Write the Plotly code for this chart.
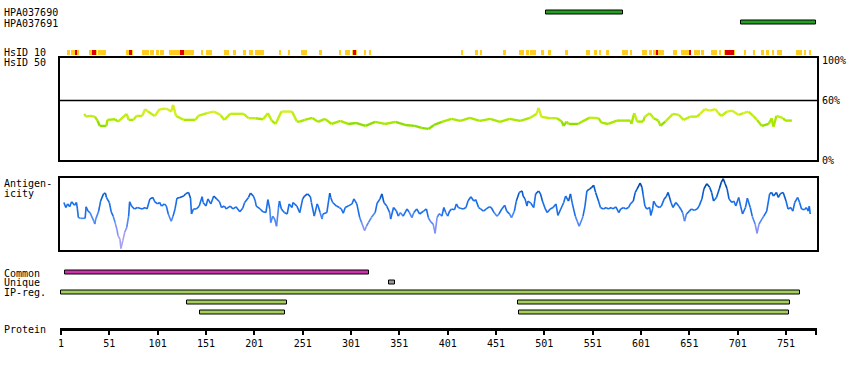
import plotly.graph_objects as go

W, H = 850, 370
FONT = "DejaVu Sans Mono"

# ---------------- data ----------------
protein_length = 782
tick_vals = [1, 51, 101, 151, 201, 251, 301, 351, 401, 451, 501, 551, 601, 651, 701, 751]

antibody_names = ["HPA037690", "HPA037691"]
antibody_start = [503, 704]
antibody_end = [582, 782]

# HsID 10 conserved segments (residue start, end)
hsid10_yellow_start = [8, 11, 18, 30, 37, 40, 43, 46, 68, 74, 85, 93, 100, 103, 113, 128, 146, 151, 170, 179, 189, 196, 202, 227, 236, 249, 268, 289, 295, 303, 306, 314, 320,
                       415, 430, 435, 459, 475, 483, 487, 490, 498, 505, 523, 544, 553, 558, 565, 581, 590, 602, 610, 613, 619, 621, 634, 642, 656, 664, 673, 682, 687, 697, 708, 717, 725, 731, 736, 742, 761, 770, 775]
hsid10_yellow_end = [10, 16, 19, 33, 38, 42, 45, 48, 72, 76, 92, 97, 102, 108, 124, 139, 148, 157, 175, 182, 192, 200, 211, 229, 238, 255, 271, 291, 300, 304, 307, 317, 322,
                     417, 432, 437, 461, 480, 485, 489, 492, 501, 508, 525, 548, 555, 560, 568, 588, 592, 607, 612, 616, 620, 625, 638, 651, 662, 666, 680, 684, 688, 698, 710, 719, 728, 733, 739, 747, 767, 772, 777]
hsid10_red_start = [15, 33, 72, 124, 304, 616, 651, 688]
hsid10_red_end = [18, 37, 74, 128, 306, 619, 653, 697]

# HsID 50 identity (%)
hsid50_res = [25, 27, 31, 36, 39, 41, 48, 49, 57, 60, 69, 71, 76, 79, 85, 88, 91, 98, 103, 110, 115, 117, 120, 128, 140, 143, 152, 159, 166, 170, 176, 190, 195, 202, 210, 215, 219, 223, 229, 240, 245, 248,
              253, 261, 267, 274, 281, 290, 298, 306, 316, 326, 336, 347, 357, 367, 374, 381, 387, 395, 405, 414, 424, 434, 445, 455, 465, 476, 486, 493, 495, 498,
              507, 514, 519, 521, 524, 526, 536, 540, 548, 557, 560, 567, 576, 590, 591, 594, 597, 603, 605, 610, 614, 619, 621, 626, 634, 640, 645, 652, 659, 662, 667, 672, 678, 681, 684, 690, 695, 702, 707, 712, 717, 721, 726, 733, 736, 738, 741, 748, 750, 757]
hsid50_pct = [46.6, 43.8, 44.5, 43.8, 39.5, 34.4, 34.4, 40.5, 41.2, 38.8, 46.6, 40.5, 40.5, 44.5, 44.5, 51.3, 48.9, 44.5, 51.3, 51.9, 48.9, 55.7, 44.5, 40.5, 40.5, 44.5, 47.3, 48.9, 45.5, 40.5, 46.6, 46.6, 42.2, 42.2, 41.2, 47.3, 39.8, 36.4, 48.9, 48.9, 38.8, 38.8,
              40.5, 42.5, 38.5, 41.5, 36.4, 39.5, 36.4, 37.4, 34.4, 38.5, 36.4, 38.5, 35.4, 34.4, 32.4, 31.4, 35.4, 38.5, 41.5, 39.5, 42.5, 39.5, 41.5, 38.5, 41.5, 39.5, 42.5, 46.6, 52.6, 43.5,
              42.2, 42.2, 38.8, 34.4, 38.8, 36.4, 36.4, 38.8, 42.8, 42.2, 37.8, 36.4, 39.8, 39.8, 36.4, 47.3, 38.8, 38.8, 43.8, 47.3, 42.2, 39.8, 34.4, 38.8, 46.6, 45.5, 40.5, 43.8, 43.8, 46.6, 51.3, 49.9, 51.3, 47.3, 44.5, 48.9, 49.9, 45.5, 47.3, 48.9, 44.5, 40.5, 34.4, 36.4, 42.2, 33.7, 44.5, 42.2, 39.8, 39.8]

# Antigenicity score (0-100 panel scale)
antigen_res = [4, 6, 8, 10, 12, 15, 17, 18, 19, 21, 26, 27, 29, 31, 35, 36, 37, 40, 42, 45, 47, 48, 51, 53, 55, 57, 59, 60, 62, 63, 65, 67, 69, 71, 72, 74, 77, 80, 85, 88, 90, 93, 96, 98, 101, 103, 105, 108, 110, 112, 115, 117, 119, 121, 124, 128, 130, 133, 135, 136, 138, 141, 144, 147, 148, 151, 153, 156, 159, 162, 165, 167, 170, 172, 176, 179, 182, 186, 189, 191, 195, 197, 200, 202, 203, 207, 210, 213, 215, 217, 218, 220, 222, 224, 226, 227, 229, 232, 235, 237, 240, 241, 245, 248, 251, 253, 256, 259, 260, 263, 266, 267, 269, 271, 272, 276, 279, 280, 282, 286, 289, 291, 293, 295, 298, 302, 304, 307, 310, 312, 315, 317, 319, 322, 326, 328, 331, 333, 335, 338, 341, 342, 345, 348, 350, 352, 355, 359, 361, 364, 366, 369, 372, 376, 379, 381, 383, 386, 388, 390, 392,
               393, 395, 397, 399, 401, 403, 405, 408, 410, 412, 414, 417, 420, 422, 425, 428, 430, 433, 435, 438, 441, 444, 446, 449, 452, 454, 457, 460, 462, 465, 467, 470, 472, 475, 478, 479, 481, 483, 484, 487, 490, 492, 495, 497, 499, 502, 504, 507, 510, 513, 515, 518, 521, 523, 526, 528, 530, 533, 535, 537, 540, 541, 543, 545, 548, 550, 552, 554, 557, 559, 562, 565, 567, 570, 572, 575, 578, 580, 583, 585, 588, 590, 593, 595, 597, 600, 602, 603, 605, 607, 610, 611, 613, 614, 617, 620, 622, 625, 627, 629, 632, 634, 637, 640, 642, 644, 646, 648, 651, 653, 656, 659, 661, 664, 666, 669, 672, 674, 676, 679, 682, 684, 686, 688, 690, 692, 695, 697, 699, 702, 704, 706, 709, 711, 714, 716, 719, 721, 723, 726, 728, 731, 734, 736, 738, 741, 743, 745, 748, 751, 753, 756, 758, 760, 763, 765, 767, 770, 772, 774, 775, 776]
antigen_score = [66, 59, 64, 60, 67, 62, 66, 57, 45, 44, 44, 60, 54, 52, 40, 36, 43, 54, 68, 78, 79, 73, 66, 53, 47, 38, 28, 20, 15, 2, 13, 25, 31, 47, 67, 61, 57, 59, 57, 59, 57, 71, 73, 67, 64, 66, 61, 64, 61, 50, 40, 47, 57, 72, 73, 75, 78, 80, 72, 50, 57, 57, 61, 74, 66, 61, 71, 64, 75, 71, 67, 59, 61, 57, 61, 57, 60, 53, 58, 66, 73, 79, 75, 68, 61, 57, 53, 52, 70, 57, 38, 47, 43, 33, 59, 68, 57, 52, 50, 64, 59, 66, 61, 52, 71, 75, 78, 74, 66, 47, 64, 61, 52, 43, 50, 52, 79, 73, 66, 61, 59, 57, 51, 59, 61, 64, 71, 64, 45, 38, 27, 33, 38, 45, 52, 65, 71, 78, 66, 61, 52, 43, 59, 54, 47, 52, 47, 57, 53, 45, 52, 57, 50, 54, 57, 45, 40, 36, 23, 45, 50,
                 50, 47, 59, 52, 47, 54, 57, 56, 64, 59, 58, 57, 59, 68, 74, 68, 70, 59, 57, 54, 57, 60, 59, 52, 47, 50, 57, 62, 54, 50, 45, 54, 68, 80, 82, 75, 71, 61, 68, 65, 59, 78, 82, 78, 68, 57, 52, 57, 59, 64, 48, 57, 66, 75, 68, 78, 64, 47, 40, 33, 43, 47, 61, 82, 85, 87, 90, 80, 68, 59, 57, 59, 57, 59, 57, 60, 52, 57, 59, 57, 59, 64, 68, 80, 85, 93, 87, 78, 61, 57, 59, 48, 57, 68, 61, 59, 61, 71, 74, 80, 66, 59, 66, 61, 57, 52, 40, 50, 54, 57, 55, 57, 61, 71, 85, 92, 87, 80, 68, 73, 85, 94, 99, 92, 85, 71, 66, 68, 61, 73, 61, 50, 59, 72, 59, 47, 36, 23, 36, 43, 47, 54, 78, 80, 75, 80, 73, 78, 80, 68, 57, 59, 54, 66, 73, 66, 57, 56, 59, 54, 61, 50]

common_start, common_end = [5], [320]
unique_start, unique_end = [340], [347]
ipreg_row = [0, 1, 1, 2, 2]
ipreg_start = [1, 131, 474, 145, 475]
ipreg_end = [765, 235, 755, 233, 754]

# ---------------- helpers ----------------
def fy(px):
    return 1 - px / H

def fx(px):
    return px / W

X_DOM = [fx(60), fx(817)]
X_RANGE = [0, 783]


def colored_segments(xs, ys, bins, colors, xaxis, yaxis, width):
    traces = []
    for b, col in enumerate(colors):
        sx, sy = [], []
        for i in range(len(xs) - 1):
            v = (ys[i] + ys[i + 1]) / 2
            k = 0
            while k < len(bins) and v >= bins[k]:
                k += 1
            if k == b:
                sx += [xs[i], xs[i + 1], None]
                sy += [ys[i], ys[i + 1], None]
        if sx:
            traces.append(go.Scatter(x=sx, y=sy, mode="lines", xaxis=xaxis, yaxis=yaxis,
                                     line=dict(color=col, width=width),
                                     hoverinfo="skip", showlegend=False, connectgaps=False))
    return traces


fig = go.Figure()

# HsID 50 line
for t in colored_segments(hsid50_res, hsid50_pct, [37, 42, 47],
                          ["#8EDF00", "#A8E800", "#C0EE10", "#D6EE22"], "x", "y", 2.4):
    fig.add_trace(t)

# Antigenicity line
for t in colored_segments(antigen_res, antigen_score, [20, 35, 50, 72, 86],
                          ["#A8A0F8", "#8090F8", "#4A86F4", "#1A6EE8", "#0A5CD0", "#0048A8"], "x2", "y2", 1.6):
    fig.add_trace(t)

# HsID 10 bars
fig.add_trace(go.Bar(orientation="h", y=[0] * len(hsid10_yellow_start),
                     base=hsid10_yellow_start,
                     x=[e - s for s, e in zip(hsid10_yellow_start, hsid10_yellow_end)],
                     width=1, marker=dict(color="#FFCC22", line=dict(width=0)),
                     xaxis="x3", yaxis="y5", showlegend=False, hoverinfo="skip"))
fig.add_trace(go.Bar(orientation="h", y=[0] * len(hsid10_red_start),
                     base=hsid10_red_start,
                     x=[e - s for s, e in zip(hsid10_red_start, hsid10_red_end)],
                     width=1, marker=dict(color="#E00000", line=dict(width=0)),
                     xaxis="x3", yaxis="y5", showlegend=False, hoverinfo="skip"))

# Antibody bars
fig.add_trace(go.Bar(orientation="h", y=[0, 1], base=antibody_start,
                     x=[e - s for s, e in zip(antibody_start, antibody_end)],
                     width=0.42, marker=dict(color="#22A022", line=dict(color="black", width=1)),
                     xaxis="x3", yaxis="y6", showlegend=False, hoverinfo="skip"))

# Track bars: Common (row 0), Unique (row 1), IP-reg (rows 2..4)
fig.add_trace(go.Bar(orientation="h", y=[0], base=common_start,
                     x=[e - s for s, e in zip(common_start, common_end)],
                     width=0.42, marker=dict(color="#CC33AA", line=dict(color="black", width=1)),
                     xaxis="x3", yaxis="y4", showlegend=False, hoverinfo="skip"))
fig.add_trace(go.Bar(orientation="h", y=[1], base=unique_start,
                     x=[e - s for s, e in zip(unique_start, unique_end)],
                     width=0.42, marker=dict(color="#999999", line=dict(color="black", width=1)),
                     xaxis="x3", yaxis="y4", showlegend=False, hoverinfo="skip"))
fig.add_trace(go.Bar(orientation="h", y=[r + 2 for r in ipreg_row], base=ipreg_start,
                     x=[e - s for s, e in zip(ipreg_start, ipreg_end)],
                     width=0.42, marker=dict(color="#A3CF5A", line=dict(color="black", width=1)),
                     xaxis="x3", yaxis="y4", showlegend=False, hoverinfo="skip"))

# ---------------- layout ----------------
hidden = dict(visible=False, showgrid=False, zeroline=False, automargin=False)

layout = dict(
    width=W, height=H, margin=dict(l=0, r=0, t=0, b=0, autoexpand=False),
    paper_bgcolor="white", plot_bgcolor="rgba(0,0,0,0)",
    barmode="overlay", bargap=0, showlegend=False,
    font=dict(family=FONT, size=10, color="black"),
    # HsID 50 panel
    xaxis=dict(domain=X_DOM, range=X_RANGE, anchor="y", showline=True, mirror=True,
               linecolor="black", linewidth=2, showticklabels=False, ticks="",
               showgrid=False, zeroline=False, automargin=False),
    yaxis=dict(domain=[fy(160), fy(58)], range=[0, 103], anchor="x", side="right",
               showline=True, mirror=True, linecolor="black", linewidth=2,
               tickvals=[0, 60, 100], ticktext=["0%", "60%", "100%"], ticks="",
               ticklabelstandoff=1, showgrid=False, zeroline=False, automargin=False,
               tickfont=dict(family=FONT, size=10)),
    # Antigenicity panel
    xaxis2=dict(domain=X_DOM, range=X_RANGE, anchor="y2", showline=True, mirror=True,
                linecolor="black", linewidth=2, showticklabels=False, ticks="",
                showgrid=False, zeroline=False, automargin=False),
    yaxis2=dict(domain=[fy(250), fy(178)], range=[0, 100], anchor="x2", showline=True,
                mirror=True, linecolor="black", linewidth=2, showticklabels=False,
                ticks="", showgrid=False, zeroline=False, automargin=False),
    # Protein axis (anchored to the track axis whose bottom edge is the protein line)
    xaxis3=dict(domain=X_DOM, range=X_RANGE, anchor="y4", showline=True, linecolor="black",
                linewidth=3, ticks="outside", ticklen=4, tickwidth=2, tickcolor="black",
                tickvals=tick_vals + [protein_length],
                ticktext=[str(v) for v in tick_vals] + [""],
                tickfont=dict(family=FONT, size=10), showgrid=False, zeroline=False,
                automargin=False),
    # tracks: rows 0..4 at 10 px spacing, bottom edge at the protein line
    yaxis4=dict(domain=[fy(328), fy(267.5)], range=[5.55, -0.5], anchor="x3", **hidden),
    # HsID 10
    yaxis5=dict(domain=[fy(55), fy(50)], range=[-0.5, 0.5], anchor="x3", **hidden),
    # antibodies
    yaxis6=dict(domain=[fy(27.5), fy(7.5)], range=[1.5, -0.5], anchor="x3", **hidden),
)
fig.update_layout(**layout)

# 60% reference line
fig.add_hline(y=60, line=dict(color="black", width=1.5), xref="x", yref="y")

labels = [("HPA037690", 13), ("HPA037691", 23), ("HsID 10", 52.5), ("HsID 50", 62.5),
          ("Antigen-", 183), ("icity", 193), ("Common", 273), ("Unique", 282.5),
          ("IP-reg.", 292.5), ("Protein", 329.5)]
for txt, ypx in labels:
    fig.add_annotation(text=txt, x=fx(2), y=fy(ypx), xref="paper", yref="paper",
                       xanchor="left", yanchor="middle", showarrow=False,
                       font=dict(family=FONT, size=10, color="black"))

fig.write_html("out.html", config={"displayModeBar": False},
               post_script="document.body.style.margin='0';document.body.style.overflow='hidden';")
